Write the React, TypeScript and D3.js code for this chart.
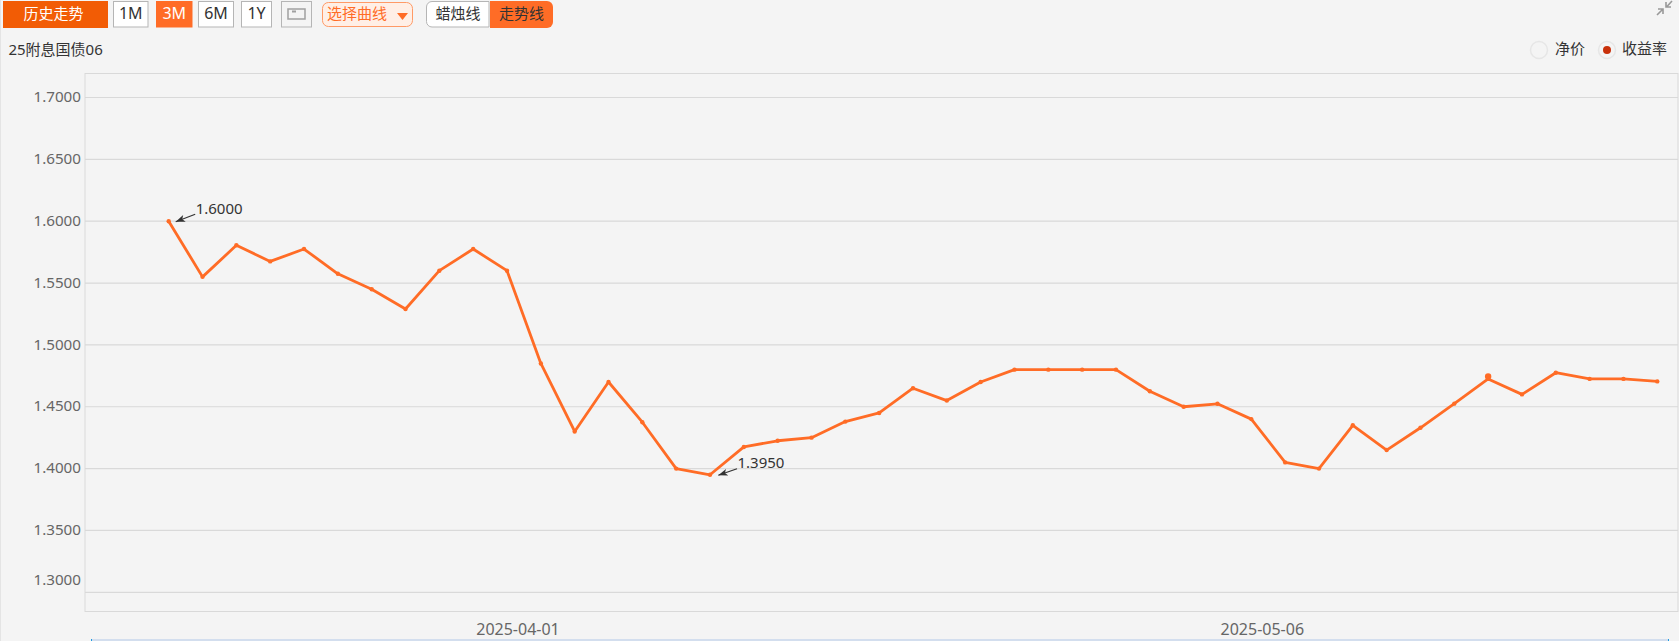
import React from "react";
import * as d3 from "d3";

const W = 1679;
const H = 641;
const FONT = '"Noto Sans", "Noto Sans CJK SC", sans-serif';

const dates = [
  "2025-03-18","2025-03-19","2025-03-20","2025-03-21","2025-03-24","2025-03-25","2025-03-26","2025-03-27","2025-03-28","2025-03-31",
  "2025-04-01","2025-04-02","2025-04-03","2025-04-07","2025-04-08","2025-04-09","2025-04-10","2025-04-11","2025-04-14","2025-04-15",
  "2025-04-16","2025-04-17","2025-04-18","2025-04-21","2025-04-22","2025-04-23","2025-04-24","2025-04-25","2025-04-27","2025-04-28",
  "2025-04-29","2025-04-30","2025-05-06","2025-05-07","2025-05-08","2025-05-09","2025-05-12","2025-05-13","2025-05-14","2025-05-15",
  "2025-05-16","2025-05-19","2025-05-20","2025-05-21","2025-05-22",
];
const yields = [
  1.6, 1.555, 1.5805, 1.5675, 1.5775, 1.5575, 1.545, 1.529, 1.56, 1.5775,
  1.56, 1.485, 1.43, 1.47, 1.4375, 1.4, 1.395, 1.4175, 1.4225, 1.425,
  1.438, 1.445, 1.465, 1.455, 1.47, 1.48, 1.48, 1.48, 1.48, 1.4625,
  1.45, 1.4524, 1.44, 1.405, 1.4, 1.435, 1.415, 1.433, 1.4525, 1.4725,
  1.46, 1.4775, 1.4725, 1.4725, 1.4705,
];
const yTicks = [1.7, 1.65, 1.6, 1.55, 1.5, 1.45, 1.4, 1.35, 1.3];
const xTickLabels = ["2025-04-01", "2025-05-06"];
const hoverDate = "2025-05-15";
const hoverValue = 1.4745;
const maxDate = "2025-03-18";
const minDate = "2025-04-10";
const rangeButtons = ["1M", "3M", "6M", "1Y"];
const activeRange = "3M";

const ORANGE = "#ff6c26";
const GRID = "#d9d9d9";

const x = d3.scalePoint<string>().domain(dates).range([168.7, 1657.3]);
const y = d3.scaleLinear().domain([1.3, 1.7]).range([592.3, 97.5]);
const line = d3
  .line<number>()
  .x((_, i) => x(dates[i]) as number)
  .y((d) => y(d));

const valueOf = (date: string) => yields[dates.indexOf(date)];

function Callout({ date, tip, text }: { date: string; tip: [number, number]; text: [number, number] }) {
  const px = x(date) as number;
  const py = y(valueOf(date));
  const [tx, ty] = [px + tip[0], py + tip[1]];
  const [ex, ey] = [px + text[0], py + text[1]];
  const a = Math.atan2(ey - ty, ex - tx);
  const head = (s: number) => `${tx + 10 * Math.cos(a + s)},${ty + 10 * Math.sin(a + s)}`;
  return (
    <g>
      <line x1={tx} y1={ty} x2={ex} y2={ey} stroke="#333" strokeWidth={1.2} />
      <polygon points={`${head(0.36)} ${tx},${ty} ${head(-0.36)} ${tx + 7 * Math.cos(a)},${ty + 7 * Math.sin(a)}`} fill="#333" />
      <text x={ex + 0.5} y={ey - 4.5} dominantBaseline="middle" fontSize={15} fill="#333">
        {valueOf(date).toFixed(4)}
      </text>
    </g>
  );
}

export default function App() {
  const btn = [
    { l: 113, r: 148.5 },
    { l: 156, r: 192.5 },
    { l: 198, r: 234 },
    { l: 241, r: 272 },
  ];
  return (
    <svg
      width={W}
      height={H}
      style={{ position: "absolute", left: 0, top: 0, display: "block", fontFamily: FONT }}
    >
      <rect width={W} height={H} fill="#f4f4f4" />
      <line x1={0.5} x2={0.5} y1={0} y2={H} stroke="#e4e4e4" />

      {/* toolbar */}
      <rect x={3} y={1} width={105} height={27} fill="#f25c05" />
      <text x={53.5} y={15} textAnchor="middle" dominantBaseline="middle" fontSize={15} fill="#fff">历史走势</text>
      {rangeButtons.map((b, i) => {
        const on = b === activeRange;
        return (
          <g key={b}>
            <rect
              x={btn[i].l + 0.5}
              y={1.5}
              width={btn[i].r - btn[i].l - 1}
              height={25.5}
              fill={on ? ORANGE : "#fff"}
              stroke={on ? ORANGE : "#b5b5b5"}
            />
            <text
              x={(btn[i].l + btn[i].r) / 2}
              y={15}
              textAnchor="middle"
              dominantBaseline="middle"
              fontSize={16}
              fill={on ? "#fff" : "#333"}
            >
              {b}
            </text>
          </g>
        );
      })}
      <rect x={281.5} y={1.5} width={30} height={25.5} fill="#f4f4f4" stroke="#b5b5b5" />
      <rect x={288} y={9} width={17} height={10} fill="none" stroke="#a0a0a0" strokeWidth={1.5} />
      <path d="M292 11.5h4" stroke="#a0a0a0" strokeWidth={2} />
      <rect x={322.5} y={2.5} width={90} height={24} rx={6} fill="#ffefe6" stroke="#ff9a66" />
      <text x={327} y={15} dominantBaseline="middle" fontSize={15} fill={ORANGE}>选择曲线</text>
      <path d="M397 13h11l-5.5 7z" fill={ORANGE} />
      <path d="M489 1.5h-57a5.5 5.5 0 0 0 -5.5 5.5v14.5a5.5 5.5 0 0 0 5.5 5.5h57z" fill="#fff" stroke="#b5b5b5" />
      <text x={458} y={15} textAnchor="middle" dominantBaseline="middle" fontSize={15} fill="#333">蜡烛线</text>
      <path d="M490 1h57a6 6 0 0 1 6 6v15a6 6 0 0 1 -6 6h-57z" fill={ORANGE} />
      <text x={521.5} y={15} textAnchor="middle" dominantBaseline="middle" fontSize={15} fill="#333">走势线</text>

      {/* expand icon */}
      <path d="M1657 15l6-6M1658 9h5v5" stroke="#999" strokeWidth={1.6} fill="none" />
      <path d="M1672 1l-5.500 6M1666 2v5h5" stroke="#999" strokeWidth={1.6} fill="none" />

      {/* title + radios */}
      <text x={8.4} y={50.5} dominantBaseline="middle" fontSize={15} fill="#333">25附息国债06</text>
      <circle cx={1539} cy={50} r={8.5} fill="#f4f4f4" stroke="#e6e6e6" strokeWidth={1.5} />
      <text x={1555} y={50} dominantBaseline="middle" fontSize={15} fill="#333">净价</text>
      <circle cx={1607} cy={50} r={8.5} fill="#f4f4f4" stroke="#e6e6e6" strokeWidth={1.5} />
      <circle cx={1607} cy={50} r={4} fill="#c8300a" />
      <text x={1622} y={50} dominantBaseline="middle" fontSize={15} fill="#333">收益率</text>

      {/* plot frame and grid */}
      <rect x={85} y={73.5} width={1593} height={538} fill="none" stroke={GRID} />
      {yTicks.map((t) => (
        <g key={t}>
          <line x1={85} x2={1678} y1={y(t)} y2={y(t)} stroke={GRID} strokeWidth={1.2} />
          <text
            x={81}
            y={t === 1.3 ? y(t) - 11.8 : y(t) + 0.6}
            textAnchor="end"
            dominantBaseline="middle"
            fontSize={15.2}
            fill="#666"
          >
            {t.toFixed(4)}
          </text>
        </g>
      ))}
      {xTickLabels.map((d) => (
        <text
          key={d}
          x={(x(d) as number) + 11}
          y={630.5}
          textAnchor="middle"
          dominantBaseline="middle"
          fontSize={16}
          fill="#666"
        >
          {d}
        </text>
      ))}

      {/* range strip */}
      <rect x={91} y={639} width={1577} height={2} fill="#d3deee" />
      <rect x={91} y={639} width={1} height={2} fill="#1e9be0" />
      <rect x={1668} y={639} width={1} height={2} fill="#1e9be0" />

      {/* series */}
      <path d={line(yields) ?? ""} fill="none" stroke={ORANGE} strokeWidth={2.8} strokeLinejoin="round" />
      {yields.map((v, i) => (
        <circle key={dates[i]} cx={x(dates[i])} cy={y(v)} r={2.2} fill={ORANGE} />
      ))}
      <circle cx={x(hoverDate)} cy={y(hoverValue)} r={3.2} fill={ORANGE} />

      <Callout date={maxDate} tip={[7, 0.5]} text={[26.5, -7]} />
      <Callout date={minDate} tip={[8.3, 0.5]} text={[27, -6]} />
    </svg>
  );
}
